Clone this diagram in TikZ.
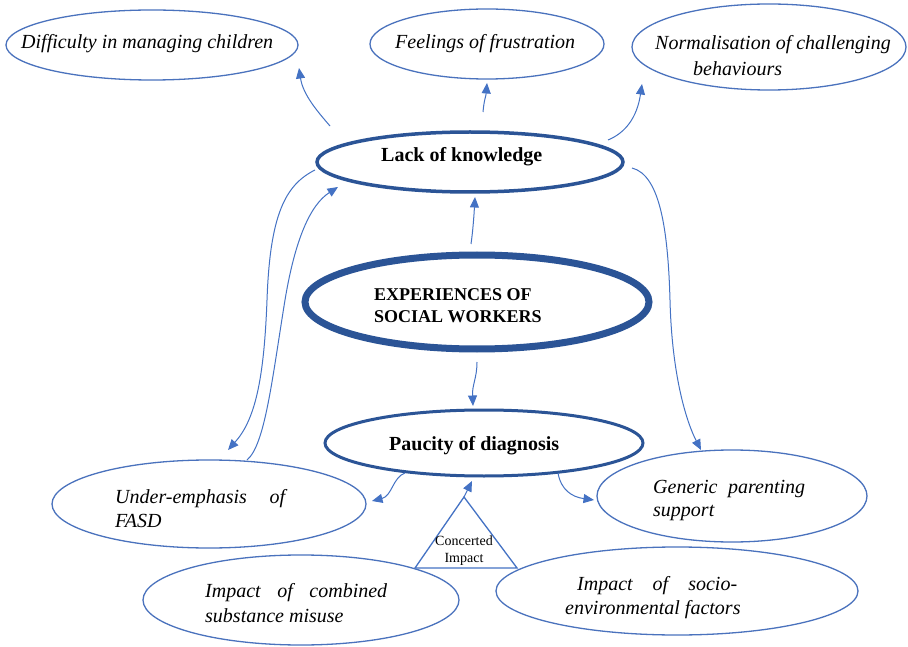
\documentclass[tikz,border=0pt]{standalone}
\usepackage{fontspec}
\setmainfont{Liberation Serif}
\usetikzlibrary{shapes.geometric,arrows.meta}
\definecolor{thinblue}{HTML}{4A72BD}
\definecolor{darkblue}{HTML}{2B5496}
\definecolor{arrblue}{HTML}{4472C4}
\begin{document}
\begin{tikzpicture}[x=1pt,y=-1pt,
  oval/.style={ellipse, draw=thinblue, line width=1.3pt, inner sep=0pt},
  thickoval/.style={ellipse, draw=darkblue, inner sep=0pt},
  itxt/.style={font=\fontsize{20}{24}\selectfont\itshape, inner sep=0pt, anchor=base west},
  btxt/.style={font=\fontsize{20}{24}\selectfont\bfseries, inner sep=0pt, anchor=base west},
  arr/.style={draw=arrblue, line width=1pt, -{Triangle[length=10.5pt,width=9pt]}},
  tri/.style={draw=arrblue, line width=1.3pt, line join=miter}]
\useasboundingbox (0,0) rectangle (908,647);
\fill[white] (0,0) rectangle (908,647);

% ellipses
\node[oval, minimum width=292pt, minimum height=70pt] (diff) at (152,45) {};
\node[oval, minimum width=234pt, minimum height=70pt] (feel) at (487,44) {};
\node[oval, minimum width=274pt, minimum height=86pt] (norm) at (769,47) {};
\node[thickoval, line width=3.5pt, minimum width=306pt, minimum height=60pt] (lack) at (470,162) {};
\node[thickoval, line width=7pt, minimum width=344pt, minimum height=94pt] (exp) at (477,302) {};
\node[thickoval, line width=3pt, minimum width=318pt, minimum height=66pt] (pau) at (484,443) {};
\node[oval, minimum width=314pt, minimum height=88pt] (under) at (209,504) {};
\node[oval, minimum width=270pt, minimum height=92pt] (gen) at (732,496) {};
\node[oval, minimum width=316pt, minimum height=90pt] (comb) at (301,600) {};
\node[oval, minimum width=362pt, minimum height=88pt] (socio) at (677,591) {};

% texts
\node[itxt] (diffT) at (21,49) {Difficulty in managing children};
\node[itxt] (feelT) at (395,49) {Feelings of frustration};
\node[itxt, font=\fontsize{20}{26}\selectfont\itshape] (normT) at (655,50)
  {\begin{tabular}[t]{@{}l@{}}Normalisation of challenging\\\hspace{38pt}behaviours\end{tabular}};
\node[btxt] (lackT) at (381,162) {Lack of knowledge};
\node[btxt, font=\fontsize{18}{22}\selectfont\bfseries] (expT) at (374,301)
  {\begin{tabular}[t]{@{}l@{}}EXPERIENCES OF\\SOCIAL WORKERS\end{tabular}};
\node[btxt] (pauT) at (389,450) {Paucity of diagnosis};
\node[itxt] (underT) at (115,503)
  {\begin{tabular}[t]{@{}l@{}}\makebox[170pt][s]{Under-emphasis of}\\FASD\end{tabular}};
\node[itxt, font=\fontsize{20}{23}\selectfont\itshape] (genT) at (653,493)
  {\begin{tabular}[t]{@{}l@{}}\makebox[152pt][s]{Generic parenting}\\support\end{tabular}};
\node[itxt, font=\fontsize{20}{25}\selectfont\itshape] (combT) at (205,597)
  {\begin{tabular}[t]{@{}l@{}}\makebox[182pt][s]{Impact of combined}\\substance misuse\end{tabular}};
\node[itxt] (socioT) at (565,590)
  {\begin{tabular}[t]{@{}l@{}}\hspace{12pt}\makebox[160pt][s]{Impact of socio-}\\environmental factors\end{tabular}};

% triangle
\coordinate (apex) at (464,497);
\coordinate (tbl) at (415,568);
\coordinate (tbr) at (517,568);
\draw[tri] (apex) -- (tbl) -- (tbr) -- cycle;
\node[inner sep=0pt, anchor=base, font=\fontsize{14}{17}\selectfont] (conc) at (464,545)
  {\begin{tabular}[t]{@{}c@{}}Concerted\\Impact\end{tabular}};

% connector end points
\coordinate (s1) at (330,126); \coordinate (t1) at (299,68);
\coordinate (s2) at (483,112); \coordinate (t2) at (487,83);
\coordinate (s3) at (608,140); \coordinate (t3) at (642,84);
\coordinate (s4) at (471,244); \coordinate (t4) at (475,197);
\coordinate (s5) at (477,362); \coordinate (t5) at (473,406);
\coordinate (s6) at (315,170); \coordinate (t6) at (228,450);
\coordinate (s7) at (247,460); \coordinate (t7) at (338,187);
\coordinate (s8) at (632,168); \coordinate (t8) at (701,450);
\coordinate (s9) at (405,473); \coordinate (t9) at (372,501);
\coordinate (s10) at (558,473); \coordinate (t10) at (594,500);
\coordinate (t11) at (472,481);

% connectors
\draw[arr] (s1) .. controls (318,112) and (303,95) .. (t1);
\draw[arr] (s2) .. controls (484,100) and (486,96) .. (t2);
\draw[arr] (s3) .. controls (625,133) and (637,118) .. (t3);
\draw[arr] (s4) .. controls (473,230) and (474,215) .. (t4);
\draw[arr] (s5) .. controls (477,378) and (472,385) .. (t5);
\draw[arr] (s6) .. controls (285,185) and (270,215) .. (267,300) .. controls (264,380) and (255,420) .. (t6);
\draw[arr] (s7) .. controls (265,445) and (272,380) .. (285,300) .. controls (295,240) and (310,205) .. (t7);
\draw[arr] (s8) .. controls (660,175) and (668,230) .. (670,300) .. controls (672,380) and (688,425) .. (t8);
\draw[arr] (s9) .. controls (393,477) and (392,496) .. (t9);
\draw[arr] (s10) .. controls (561,490) and (572,497) .. (t10);
\draw[arr] (apex) -- (t11);
\end{tikzpicture}
\end{document}
